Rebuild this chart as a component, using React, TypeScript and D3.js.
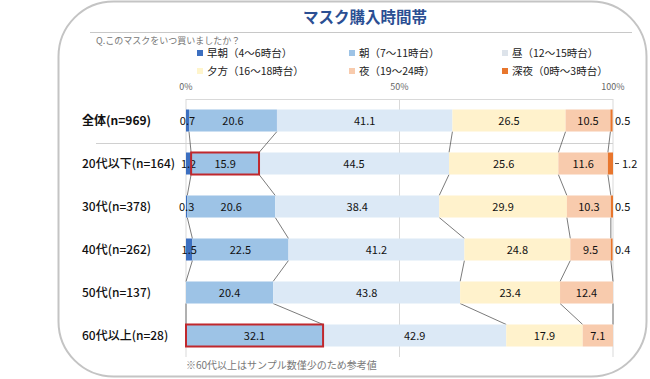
import React from "react";
import * as d3 from "d3";

const categories = ["全体(n=969)", "20代以下(n=164)", "30代(n=378)", "40代(n=262)", "50代(n=137)", "60代以上(n=28)"];
const seriesNames = ["早朝（4～6時台）", "朝（7～11時台）", "昼（12～15時台）", "夕方（16～18時台）", "夜（19～24時）", "深夜（0時～3時台）"];
const earlyMorning = [0.7, 1.2, 0.3, 1.5, 0, 0];
const morning = [20.6, 15.9, 20.6, 22.5, 20.4, 32.1];
const daytime = [41.1, 44.5, 38.4, 41.2, 43.8, 42.9];
const evening = [26.5, 25.6, 29.9, 24.8, 23.4, 17.9];
const night = [10.5, 11.6, 10.3, 9.5, 12.4, 7.1];
const lateNight = [0.5, 1.2, 0.5, 0.4, 0, 0];
const axisTicks = [0, 50, 100];
const highlighted = [[1, 1], [5, 1]]; // [row, series]

const colors = ["#3c6fc0", "#9dc3e6", "#dce9f6", "#fff2cc", "#f8cbad", "#e8762d"];
const legendColors = ["#3c6fc0", "#9dc3e6", "#dde3ea", "#fff5cc", "#f8cbad", "#e8762d"];
const FONT = "'Noto Sans CJK JP', 'Noto Sans', sans-serif";

export default function App() {
  const W = 650, H = 379;
  const series = [earlyMorning, morning, daytime, evening, night, lateNight];
  const x = d3.scaleLinear().domain([0, 100]).range([186, 613]);
  const y = d3.scaleBand<string>().domain(categories).range([99, 357]).paddingInner(0.488).paddingOuter(0.244);
  const bw = y.bandwidth();

  const rows = categories.map((c, i) => {
    let acc = 0;
    const segs = series.map((s, k) => {
      const v = s[i];
      const seg = { k, v, x0: acc, x1: acc + v };
      acc += v;
      return seg;
    });
    return { c, i, segs };
  });

  const legendPos = [
    [197, 53], [349, 53], [502, 53],
    [197, 71], [349, 71], [502, 71],
  ];

  return (
    <svg width={W} height={H} style={{ position: "absolute", left: 0, top: 0, fontFamily: FONT }}>
      <rect x={0} y={0} width={W} height={H} fill="#ffffff" />
      <rect x={58.5} y={1.5} width={588} height={375} rx={55} ry={55} fill="#ffffff" stroke="#c4c4c4" strokeWidth={2} />
      <text x={365} y={23} textAnchor="middle" fontSize={15.5} fontWeight="bold" fill="#2b4f93">マスク購入時間帯</text>
      <line x1={90} x2={632} y1={32.5} y2={32.5} stroke="#c8c8c8" strokeWidth={1} />
      <text x={96} y={44} fontSize={9} fill="#777">Q.このマスクをいつ買いましたか？</text>

      {seriesNames.map((n, k) => (
        <g key={n}>
          <rect x={legendPos[k][0]} y={legendPos[k][1] - 3} width={6} height={6} fill={legendColors[k]} />
          <text x={legendPos[k][0] + 10} y={legendPos[k][1] + 4} fontSize={10.5} fill="#222">{n}</text>
        </g>
      ))}

      {axisTicks.map((t) => (
        <g key={t}>
          <text x={x(t)} y={89.5} textAnchor="middle" fontSize={9} fill="#666">{t}%</text>
          <line x1={x(t)} x2={x(t)} y1={99} y2={357} stroke="#d9d9d9" strokeWidth={1} />
        </g>
      ))}
      <line x1={x(0)} x2={x(100)} y1={99.5} y2={99.5} stroke="#d9d9d9" strokeWidth={1} />
      <line x1={96} x2={x(100)} y1={143.5} y2={143.5} stroke="#d0d0d0" strokeWidth={1} />

      {/* connectors */}
      {rows.slice(0, -1).map((r, i) => {
        const next = rows[i + 1];
        return [1, 2, 3, 4, 5].map((k) => (
          <line key={`${i}-${k}`}
            x1={x(r.segs[k - 1].x1)} y1={(y(r.c) as number) + bw}
            x2={x(next.segs[k - 1].x1)} y2={y(next.c) as number}
            stroke="#595959" strokeWidth={0.8} />
        ));
      })}

      {rows.map((r) => {
        const y0 = y(r.c) as number;
        const cy = y0 + bw / 2;
        return (
          <g key={r.c}>
            <text x={82} y={cy + 4.5} fontSize={12} fontWeight={r.i === 0 ? "bold" : 500} fill="#111">{r.c}</text>
            {r.segs.map((s) => s.v > 0 ? (
              <rect key={s.k} x={x(s.x0)} y={y0} width={x(s.x1) - x(s.x0)} height={bw} fill={colors[s.k]} />
            ) : null)}
            {r.segs.map((s) => {
              if (s.v <= 0) return null;
              if (s.k === 5) {
                if (r.i === 1) {
                  return (
                    <g key={s.k}>
                      <line x1={x(100) + 2} x2={x(100) + 6} y1={cy} y2={cy} stroke="#555" strokeWidth={1} />
                      <text x={x(100) + 9} y={cy + 4} fontSize={11} fill="#111">{s.v.toFixed(1)}</text>
                    </g>
                  );
                }
                return <text key={s.k} x={x(100) + 2} y={cy + 4} fontSize={11} fill="#111">{s.v.toFixed(1)}</text>;
              }
              return (
                <text key={s.k} x={(x(s.x0) + x(s.x1)) / 2} y={cy + 4} textAnchor="middle" fontSize={11} fill="#111">{s.v.toFixed(1)}</text>
              );
            })}
          </g>
        );
      })}

      {highlighted.map(([ri, k]) => {
        const r = rows[ri];
        const s = r.segs[k];
        return (
          <rect key={`h${ri}`} x={x(s.x0)} y={(y(r.c) as number)} width={x(s.x1) - x(s.x0)} height={bw}
            fill="none" stroke="#c0282d" strokeWidth={2} />
        );
      })}

      <text x={186} y={369} fontSize={10} fill="#777">※60代以上はサンプル数僅少のため参考値</text>
    </svg>
  );
}
